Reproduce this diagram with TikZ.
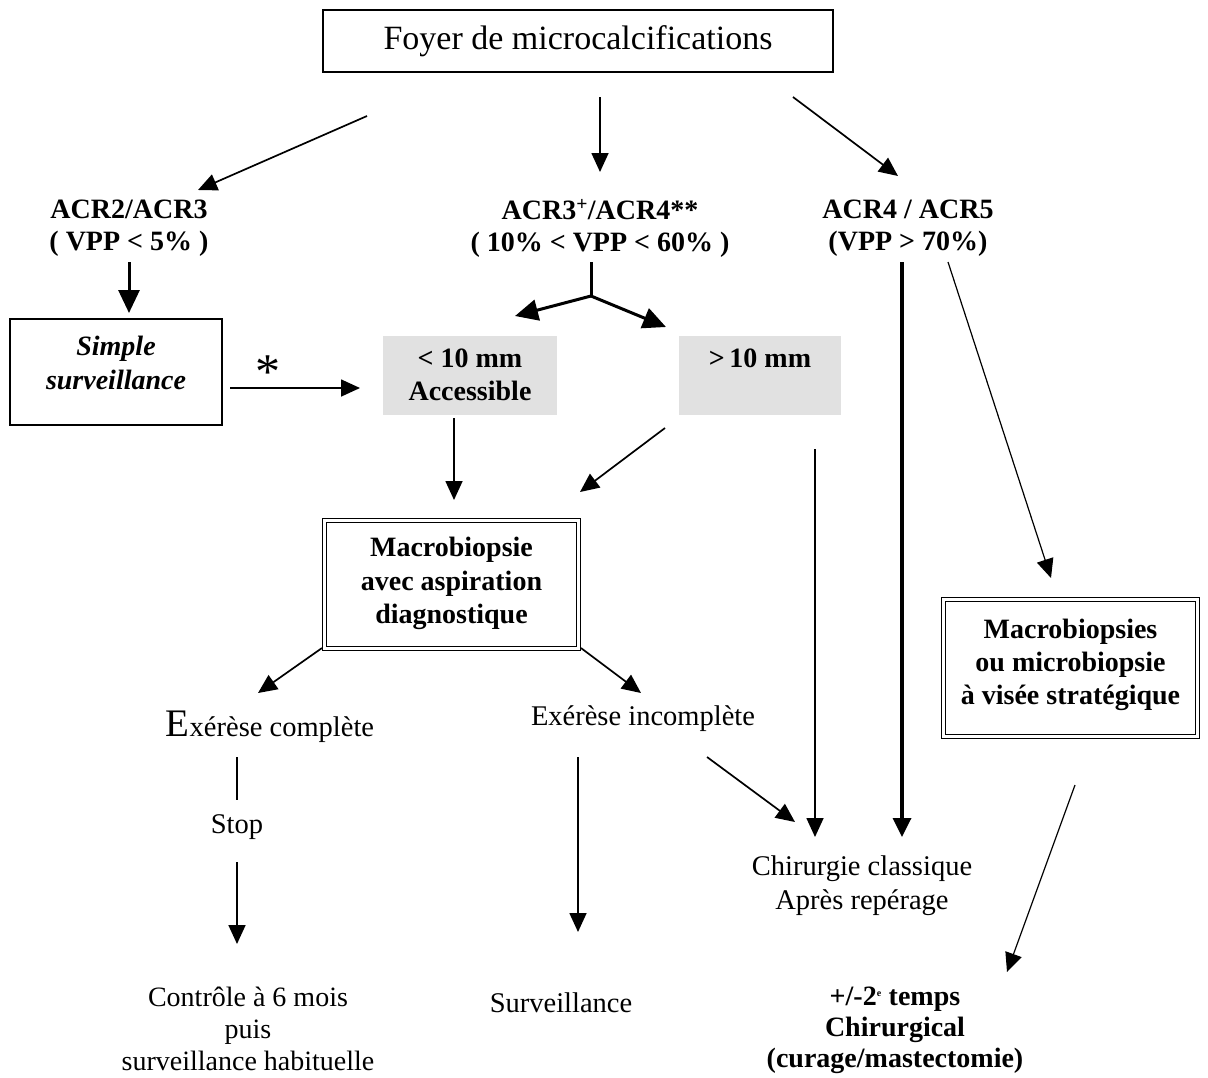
\documentclass[tikz,border=0pt]{standalone}
\usepackage{fontspec}
\setmainfont{Liberation Serif}
\usetikzlibrary{arrows.meta}
\definecolor{boxgray}{RGB}{225,225,225}
\begin{document}
\begin{tikzpicture}[x=1pt,y=-1pt,
  arr/.style={line width=1.7pt,-{Triangle[length=19pt,width=17pt]}},
  thinarr/.style={line width=1.2pt,-{Triangle[length=19pt,width=17pt]}},
  tarr/.style={line width=3pt,-{Triangle[length=23pt,width=21pt]}},
  vthick/.style={line width=3.4pt,-{Triangle[length=19pt,width=18pt]}},
  plainline/.style={line width=1.6pt},
  txt/.style={inner sep=0pt,align=center,font=\fontsize{28.5}{33}\selectfont},
  btxt/.style={inner sep=0pt,align=center,font=\fontsize{28}{32}\selectfont\bfseries},
  sbox/.style={draw,line width=1.5pt,inner sep=0pt},
  dbox/.style={draw,double,double distance=2.6pt,line width=1.3pt,inner sep=0pt},
  gbox/.style={fill=boxgray,inner sep=0pt}]
\useasboundingbox (0,0) rectangle (1208,1077);

% top box
\node (top) [sbox,minimum width=510pt,minimum height=62pt,font=\fontsize{34}{38}\selectfont] at (578,41) {Foyer de microcalcifications};

% ACR labels
\node (acrA) [btxt] at (129,228) {ACR2/ACR3\\( VPP < 5\% )};
\node (acrB) [btxt] at (600,228) {ACR3\textsuperscript{+}/ACR4**\\( 10\% < VPP < 60\% )};
\node (acrC) [btxt] at (908,228) {ACR4 / ACR5\\(VPP > 70\%)};

% simple surveillance
\node (simplebox) [sbox,minimum width=212pt,minimum height=106pt] at (116,372) {};
\node (simpletxt) [btxt,font=\fontsize{28}{34}\selectfont\bfseries\itshape] at (116,363) {Simple\\surveillance};
\node (star) [inner sep=0pt,font=\fontsize{50}{50}\selectfont] at (268,372) {*};

% gray boxes
\node (small) [gbox,minimum width=174pt,minimum height=79pt] at (470,375.5) {};
\node (smalltxt) [btxt,font=\fontsize{28}{33}\selectfont\bfseries] at (470,374.5) {< 10 mm\\Accessible};
\node (large) [gbox,minimum width=162pt,minimum height=79pt] at (760,375.5) {};
\node (largetxt) [btxt] at (760,358) {>\,10 mm};

% double boxes
\node (macro) [dbox,minimum width=253.6pt,minimum height=127.6pt] at (451.5,584.5) {};
\node (macrotxt) [btxt,font=\fontsize{28}{33.5}\selectfont\bfseries] at (451.5,583.5) {Macrobiopsie\\avec aspiration\\diagnostique};
\node (macros) [dbox,minimum width=253.6pt,minimum height=136.6pt] at (1070.5,668) {};
\node (macrostxt) [btxt,font=\fontsize{28}{33}\selectfont\bfseries] at (1070.5,665) {Macrobiopsies\\ou microbiopsie\\à visée stratégique};

% outcome texts
\node (complete) [txt] at (270,727) {{\fontsize{39}{39}\selectfont E}xérèse complète};
\node (incomplete) [txt] at (643,719) {Exérèse incomplète};
\node (stop) [txt] at (237,827) {Stop};
\node (chir) [txt,font=\fontsize{28.5}{34}\selectfont] at (862,886) {Chirurgie classique\\Après repérage};
\node (controle) [txt,font=\fontsize{28}{32}\selectfont] at (248,1029) {Contrôle à 6 mois\\puis\\surveillance habituelle};
\node (surv) [txt] at (561,1003) {Surveillance};
\node (temps) [btxt,font=\fontsize{28}{31}\selectfont\bfseries] at (895,1030) {+/-2\textsuperscript{\fontsize{10}{10}\selectfont e} temps\\Chirurgical\\(curage/mastectomie)};

% coordinates for connectors
\coordinate (a1s) at (367,116); \coordinate (a1e) at (198,190);
\coordinate (a2s) at (600,97);  \coordinate (a2e) at (600,172);
\coordinate (a3s) at (793,97);  \coordinate (a3e) at (898,176);
\coordinate (a4s) at (129,262); \coordinate (a4e) at (129,313);
\coordinate (a5s) at (230,388); \coordinate (a5e) at (360,388);
\coordinate (fk0) at (591,262); \coordinate (fk) at (591,296);
\coordinate (fkl) at (515,316); \coordinate (fkr) at (666,327);
\coordinate (a6s) at (454,418); \coordinate (a6e) at (454,500);
\coordinate (a7s) at (665,428); \coordinate (a7e) at (580,492);
\coordinate (a8s) at (322,648); \coordinate (a8e) at (258,693);
\coordinate (a9s) at (581,648); \coordinate (a9e) at (641,693);
\coordinate (l1s) at (237,757); \coordinate (l1e) at (237,800);
\coordinate (a10s) at (237,862); \coordinate (a10e) at (237,944);
\coordinate (a11s) at (578,757); \coordinate (a11e) at (578,932);
\coordinate (a12s) at (707,757); \coordinate (a12e) at (795,822);
\coordinate (a13s) at (815,449); \coordinate (a13e) at (815,837);
\coordinate (a14s) at (902,262); \coordinate (a14e) at (902,837);
\coordinate (a15s) at (948,262); \coordinate (a15e) at (1051,578);
\coordinate (a16s) at (1075,785); \coordinate (a16e) at (1007,972);

% connectors
\draw[arr] (a1s) -- (a1e);
\draw[arr] (a2s) -- (a2e);
\draw[arr] (a3s) -- (a3e);
\draw[tarr] (a4s) -- (a4e);
\draw[arr] (a5s) -- (a5e);
\draw[line width=3pt] (fk0) -- (fk);
\draw[tarr] (fk) -- (fkl);
\draw[tarr] (fk) -- (fkr);
\draw[arr] (a6s) -- (a6e);
\draw[arr] (a7s) -- (a7e);
\draw[arr] (a8s) -- (a8e);
\draw[arr] (a9s) -- (a9e);
\draw[plainline] (l1s) -- (l1e);
\draw[arr] (a10s) -- (a10e);
\draw[arr] (a11s) -- (a11e);
\draw[arr] (a12s) -- (a12e);
\draw[arr] (a13s) -- (a13e);
\draw[vthick] (a14s) -- (a14e);
\draw[thinarr] (a15s) -- (a15e);
\draw[thinarr] (a16s) -- (a16e);
\end{tikzpicture}
\end{document}
